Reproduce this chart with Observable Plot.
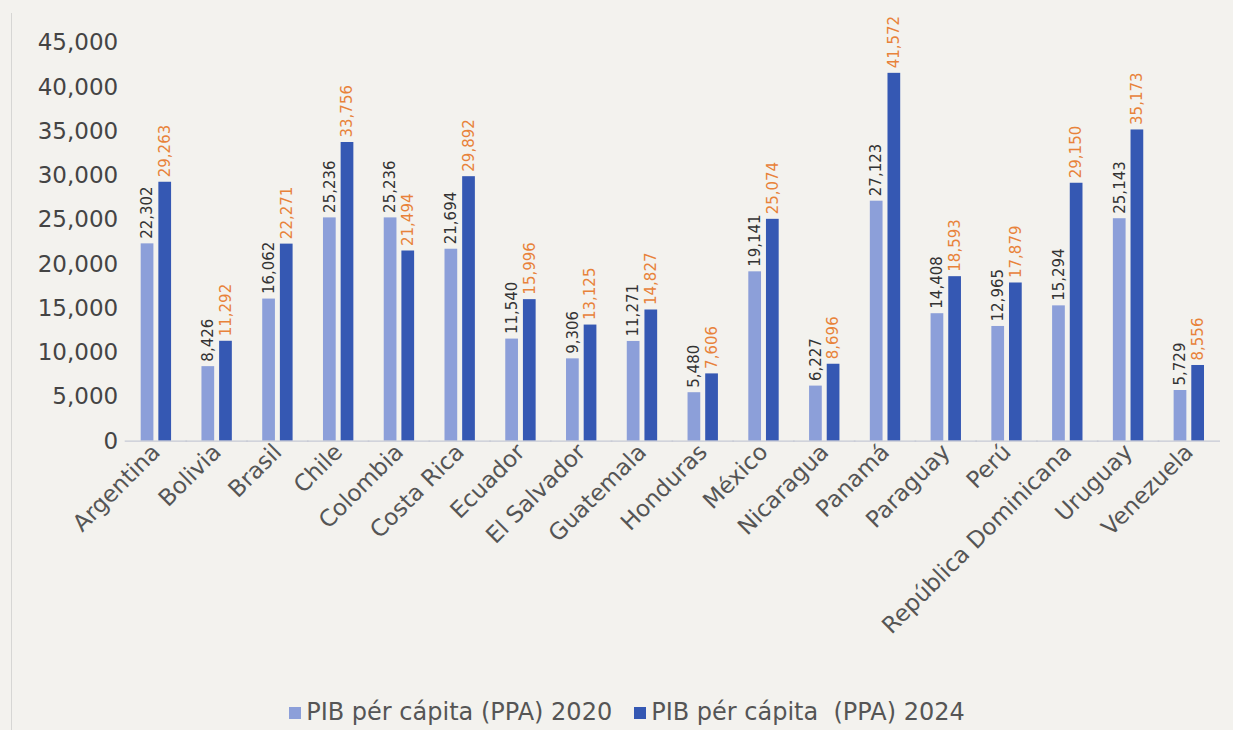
<!DOCTYPE html>
<html>
<head>
<meta charset="utf-8">
<script src="https://cdn.jsdelivr.net/npm/d3@7"></script>
<script src="https://cdn.jsdelivr.net/npm/@observablehq/plot@0.6"></script>
<style>
  html, body { margin: 0; padding: 0; background: #f3f2ee; }
  body { width: 1233px; height: 730px; overflow: hidden; position: relative; font-family: "DejaVu Sans", sans-serif; }
  #frame { position: absolute; left: 11px; top: 13px; width: 1px; height: 717px; background: #d6d6d4; }
  #chart { position: absolute; left: 0; top: 0; }
  #legend { position: absolute; left: 0; top: 697px; width: 1254px; text-align: center; font-size: 24px; color: #555; white-space: pre; line-height: 30px; }
  #legend span.sw { display: inline-block; width: 12px; height: 12px; margin-right: 5px; vertical-align: 1px; }
  #legend span.item { margin: 0 11px; }
</style>
</head>
<body>
<div id="frame"></div>
<div id="chart"></div>
<div id="legend"></div>
<script>
const countries = ["Argentina","Bolivia","Brasil","Chile","Colombia","Costa Rica","Ecuador","El Salvador","Guatemala","Honduras","México","Nicaragua","Panamá","Paraguay","Perú","República Dominicana","Uruguay","Venezuela"];
const values2020 = [22302,8426,16062,25236,25236,21694,11540,9306,11271,5480,19141,6227,27123,14408,12965,15294,25143,5729];
const values2024 = [29263,11292,22271,33756,21494,29892,15996,13125,14827,7606,25074,8696,41572,18593,17879,29150,35173,8556];
const seriesNames = ["PIB pér cápita (PPA) 2020", "PIB pér cápita  (PPA) 2024"];
const yTicks = [0,5000,10000,15000,20000,25000,30000,35000,40000,45000];

const colors = ["#8c9fd9", "#3558b3"];
const labelColors = ["#333333", "#e8823a"];

const data = [];
countries.forEach((c, i) => {
  data.push({country: c, series: "2020", value: values2020[i]});
  data.push({country: c, series: "2024", value: values2024[i]});
});

const fmt = d3.format(",");

const chart = Plot.plot({
  width: 1233,
  height: 690,
  marginLeft: 125.5,
  marginRight: 13.8,
  marginTop: 42.5,
  marginBottom: 249.3,
  style: {background: "transparent", fontFamily: "DejaVu Sans, sans-serif"},
  fx: {domain: countries, paddingInner: 0.5, paddingOuter: 0.25, round: false, label: null, axis: null},
  x: {domain: ["2020","2024"], paddingInner: 0.28, paddingOuter: 0, round: false, axis: null},
  y: {domain: [0, 45000], ticks: yTicks, label: null, axis: null},
  color: {domain: ["2020","2024"], range: colors},
  marks: [
    Plot.barY(data, {fx: "country", x: "series", y: "value", fill: "series"}),
    Plot.text(data, {
      fx: "country", x: "series", y: "value",
      text: d => fmt(d.value),
      rotate: -90, textAnchor: "start", dy: -5,
      fill: d => d.series === "2020" ? labelColors[0] : labelColors[1],
      fontSize: 15
    }),
    Plot.ruleY([0], {stroke: "#c6c9d4", strokeWidth: 1.3, insetLeft: -16, insetRight: -16}),
    Plot.axisY({ticks: yTicks, tickFormat: fmt, tickSize: 0, tickPadding: 23, fontSize: 23, color: "#444", label: null, facetAnchor: "left"}),
    Plot.axisFx({anchor: "bottom", tickRotate: -45, tickSize: 0, tickPadding: 7, fontSize: 23, color: "#555", label: null})
  ]
});
document.getElementById("chart").appendChild(chart);

const legend = document.getElementById("legend");
legend.innerHTML = seriesNames.map((n, i) =>
  `<span class="item"><span class="sw" style="background:${colors[i]}"></span>${n}</span>`).join("");
</script>
</body>
</html>
